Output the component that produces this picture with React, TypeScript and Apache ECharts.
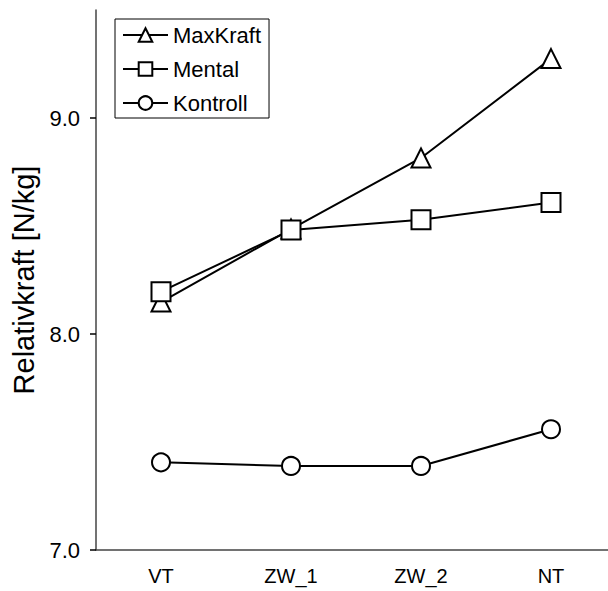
import React, { useEffect, useRef } from "react";
import * as echarts from "echarts";

const categories = ["VT", "ZW_1", "ZW_2", "NT"];
const maxKraft = [8.148, 8.486, 8.815, 9.275];
const mental = [8.196, 8.481, 8.529, 8.609];
const kontroll = [7.406, 7.389, 7.389, 7.559];
const yTicks = [7, 8, 9];

const FONT = "'Liberation Sans', Arial, Helvetica, sans-serif";

export default function App() {
  const ref = useRef<HTMLDivElement>(null);
  useEffect(() => {
    if (!ref.current) return;
    const chart = echarts.init(ref.current, null, { renderer: "svg" });
    const mk = (name: string, data: number[], symbol: string, size: number) => ({
      name,
      type: "line",
      data,
      symbol,
      symbolSize: size,
      showAllSymbol: true,
      lineStyle: { color: "#000", width: 2 },
      itemStyle: { color: "#fff", borderColor: "#000", borderWidth: 2 },
      emphasis: { disabled: true },
    });
    chart.setOption({
      animation: false,
      backgroundColor: "#fff",
      textStyle: { fontFamily: FONT },
      grid: { left: 96, right: 0, top: 10, bottom: 41, containLabel: false },
      legend: {
        left: 115,
        top: 19,
        orient: "vertical",
        borderColor: "#000",
        borderWidth: 1,
        padding: [5, 8, 4, 7],
        itemGap: 12,
        itemWidth: 45,
        itemHeight: 17,
        textStyle: { fontSize: 22, color: "#000", fontFamily: FONT },
        data: ["MaxKraft", "Mental", "Kontroll"],
      },
      xAxis: {
        type: "category",
        data: categories,
        boundaryGap: true,
        axisLine: { lineStyle: { color: "#444", width: 1.5 } },
        axisTick: { show: false },
        axisLabel: { color: "#000", fontSize: 20, margin: 16, fontFamily: FONT },
        splitLine: { show: false },
      },
      yAxis: {
        type: "value",
        min: 7,
        max: 9.5,
        interval: 1,
        name: "Relativkraft [N/kg]",
        nameLocation: "middle",
        nameGap: 58,
        nameTextStyle: { fontSize: 29, color: "#000", fontFamily: FONT },
        axisLine: { show: true, lineStyle: { color: "#444", width: 1.5 } },
        axisTick: { show: true, length: 6, customValues: yTicks, lineStyle: { color: "#000", width: 1.5 } },
        axisLabel: {
          color: "#000",
          fontSize: 22,
          margin: 16,
          fontFamily: FONT,
          customValues: yTicks,
          formatter: (v: number) => v.toFixed(1),
        },
        splitLine: { show: false },
      },
      series: [
        mk("MaxKraft", maxKraft, "triangle", 19),
        mk("Mental", mental, "rect", 19),
        mk("Kontroll", kontroll, "circle", 18),
      ],
    });
    return () => chart.dispose();
  }, []);
  return (
    <div
      ref={ref}
      style={{ position: "fixed", left: 0, top: 0, width: 616, height: 591, background: "#fff" }}
    />
  );
}
